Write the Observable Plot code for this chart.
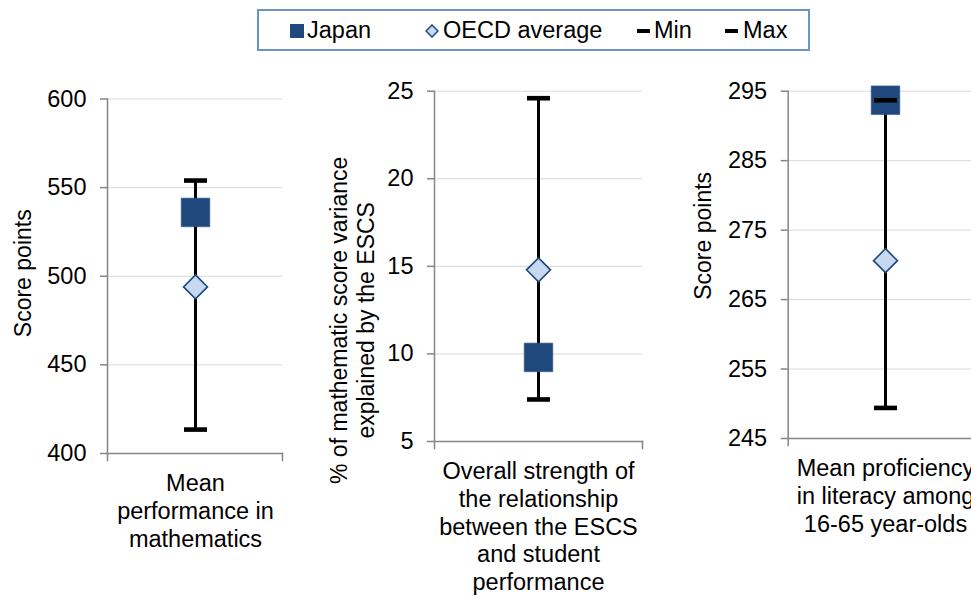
<!DOCTYPE html>
<html><head><meta charset="utf-8">
<script src="https://cdn.jsdelivr.net/npm/d3@7"></script>
<script src="https://cdn.jsdelivr.net/npm/@observablehq/plot@0.6"></script>
<style>
body{margin:0;background:#fff;font-family:"Liberation Sans",Arial,sans-serif;}
#wrap{position:relative;width:971px;height:596px;overflow:hidden;background:#fff}
.panel{position:absolute;top:0}
.panel svg{max-width:none !important;display:block}
#legend{position:absolute;left:257px;top:9px;width:553px;height:42px;box-sizing:border-box;border:2px solid #6a93c8;font-size:23.5px;color:#000;background:#fff}
#legend .txt{position:absolute;top:0;height:38px;line-height:38px;white-space:nowrap}
#legend .sw{position:absolute}
</style></head><body><div id="wrap"><div id="legend"></div></div>
<script>
// ---- data ----
const categories = [
  "Mean\nperformance in\nmathematics",
  "Overall strength of\nthe relationship\nbetween the ESCS\nand student\nperformance",
  "Mean proficiency\nin literacy among\n16-65 year-olds"
];
const yTitles = ["Score points", "% of mathematic score variance\nexplained by the ESCS", "Score points"];
const japan = [536, 9.8, 293.7];
const oecdAverage = [494, 14.8, 270.6];
const minValues = [413.5, 7.4, 249.4];
const maxValues = [554, 24.6, 293.7];
const yTicks = [[400, 450, 500, 550, 600], [5, 10, 15, 20, 25], [245, 255, 265, 275, 285, 295]];
const seriesNames = ["Japan", "OECD average", "Min", "Max"];

// ---- styles / layout ----
const C = {japan: "#1f497d", oecdFill: "#c6d9f1", oecdStroke: "#1f497d", axis: "#868686", grid: "#d9d9d9"};
const FONT = '"Liberation Sans", Arial, sans-serif';
const H = 596;
const FS = 23.5;
const layout = [
  {left: 0,   width: 300, mt: 98.5, mb: 143, ml: 107,   mr: 18, titleDx: -85,   titleDy: -3},
  {left: 320, width: 340, mt: 90.7, mb: 155, ml: 114,   mr: 18, titleDx: -83,   titleDy: 54},
  {left: 680, width: 302, mt: 90.7, mb: 158, ml: 107.7, mr: 0,  titleDx: -85.7, titleDy: -29}
];

function sym(shape) {
  return {draw(ctx, size) {
    const r = Math.sqrt(size / Math.PI);
    if (shape === "square") { ctx.moveTo(-r, -r); ctx.lineTo(r, -r); ctx.lineTo(r, r); ctx.lineTo(-r, r); ctx.closePath(); }
    else if (shape === "diamond") { ctx.moveTo(0, -r); ctx.lineTo(r, 0); ctx.lineTo(0, r); ctx.lineTo(-r, 0); ctx.closePath(); }
    else { const h = r * 0.2; ctx.moveTo(-r, -h); ctx.lineTo(r, -h); ctx.lineTo(r, h); ctx.lineTo(-r, h); ctx.closePath(); }
  }};
}

const rows = categories.map((c, i) => ({category: c, japan: japan[i], oecd: oecdAverage[i], min: minValues[i], max: maxValues[i]}));
const wrap = document.getElementById("wrap");

rows.forEach((row, i) => {
  const L = layout[i];
  const data = [row];
  const fh = H - L.mt - L.mb;
  const chart = Plot.plot({
    width: L.width, height: H,
    marginTop: L.mt, marginBottom: L.mb, marginLeft: L.ml, marginRight: L.mr,
    style: {fontFamily: FONT, fontSize: FS + "px", color: "#000", background: "transparent", overflow: "visible", maxWidth: "none"},
    x: {type: "point", domain: [row.category], axis: null},
    y: {domain: d3.extent(yTicks[i])},
    marks: [
      Plot.gridY(yTicks[i], {stroke: C.grid, strokeOpacity: 1, strokeWidth: 1}),
      Plot.frame({anchor: "bottom", stroke: C.axis, strokeWidth: 1.5}),
      Plot.frame({anchor: "left", stroke: C.axis, strokeWidth: 1.5, insetBottom: -7}),
      Plot.frame({anchor: "right", stroke: C.axis, strokeWidth: 1.5, insetTop: fh, insetBottom: -7}),
      Plot.axisY(yTicks[i], {tickSize: 7, tickPadding: 14, stroke: C.axis, strokeWidth: 1.5, fill: "#000", fontSize: FS, label: null}),
      Plot.ruleX(data, {x: "category", y1: "min", y2: "max", stroke: "#000", strokeWidth: 3}),
      Plot.dot(data, {x: "category", y: "japan", symbol: sym("square"), r: 14.3, fill: C.japan, stroke: "#30598f", strokeWidth: 0.6}),
      Plot.dot(data, {x: "category", y: "oecd", symbol: sym("diamond"), r: 12, fill: C.oecdFill, stroke: C.oecdStroke, strokeWidth: 1.6}),
      Plot.dot(data, {x: "category", y: "min", symbol: sym("dash"), r: 11.5, fill: "#000"}),
      Plot.dot(data, {x: "category", y: "max", symbol: sym("dash"), r: 11.5, fill: "#000"}),
      Plot.text(data, {x: "category", text: "category", frameAnchor: "bottom", lineAnchor: "top", dy: 18, lineHeight: 1.18, fontSize: FS, fill: "#000"}),
      Plot.text([yTitles[i]], {text: d => d, frameAnchor: "left", rotate: -90, textAnchor: "middle", lineAnchor: "middle", dx: L.titleDx, dy: L.titleDy, fontSize: 23, lineHeight: 1.2, fill: "#000"})
    ]
  });
  const div = document.createElement("div");
  div.className = "panel";
  div.style.left = L.left + "px";
  div.style.width = L.width + "px";
  div.appendChild(chart);
  wrap.insertBefore(div, document.getElementById("legend"));
});

// ---- legend ----
const legend = document.getElementById("legend");
const legendLayout = [
  {sw: `<div class="sw" style="left:31px;top:13px;width:14px;height:14px;background:${C.japan}"></div>`, tx: 48},
  {sw: `<svg class="sw" style="left:166px;top:13px" width="14" height="14"><path d="M7,1L13,7L7,13L1,7Z" fill="${C.oecdFill}" stroke="${C.oecdStroke}" stroke-width="1.5"/></svg>`, tx: 184},
  {sw: `<div class="sw" style="left:378px;top:18px;width:13px;height:4px;background:#000"></div>`, tx: 395},
  {sw: `<div class="sw" style="left:466px;top:18px;width:13px;height:4px;background:#000"></div>`, tx: 484}
];
legend.innerHTML = seriesNames.map((name, k) =>
  legendLayout[k].sw + `<div class="txt" style="left:${legendLayout[k].tx}px">${name}</div>`
).join("");
</script>
</body></html>
